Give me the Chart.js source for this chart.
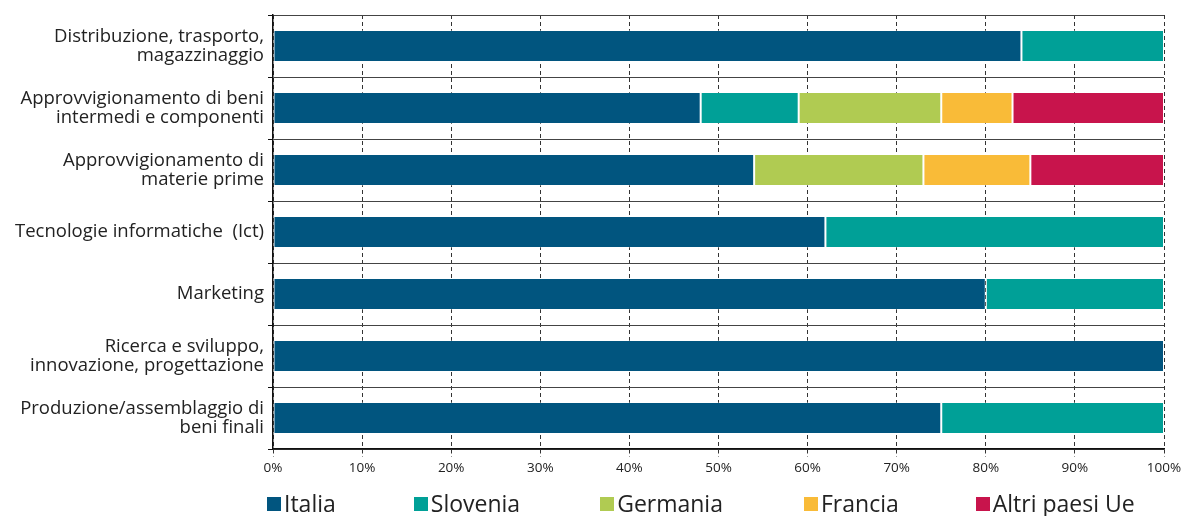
<!DOCTYPE html>
<html>
<head>
<meta charset="utf-8">
<script src="https://cdn.jsdelivr.net/npm/chart.js@4/dist/chart.umd.min.js"></script>
<style>
  html, body { margin: 0; padding: 0; background: #fff; }
  #wrap { position: relative; width: 1182px; height: 516px; overflow: hidden; }
  #chart { position: absolute; left: 0; top: 0; }
  #legend { position: absolute; left: 267px; top: 489px; display: flex; font-family: "Open Sans", sans-serif; font-size: 23px; color: #222; line-height: 28px; white-space: nowrap; }
  #legend .item { display: flex; align-items: center; }
  #legend .box { width: 14px; height: 14px; margin-right: 3px; margin-top: 2px; }
</style>
</head>
<body>
<div id="wrap">
  <canvas id="chart" width="1182" height="516"></canvas>
  <div id="legend"></div>
</div>
<script>
const categories = [
  ["Distribuzione, trasporto,", "magazzinaggio"],
  ["Approvvigionamento di beni", "intermedi e componenti"],
  ["Approvvigionamento di", "materie prime"],
  ["Tecnologie informatiche  (Ict)"],
  ["Marketing"],
  ["Ricerca e sviluppo,", "innovazione, progettazione"],
  ["Produzione/assemblaggio di", "beni finali"]
];
const seriesNames = ["Italia", "Slovenia", "Germania", "Francia", "Altri paesi Ue"];
const italia   = [84, 48, 54, 62, 80, 100, 75];
const slovenia = [16, 11, 0, 38, 20, 0, 25];
const germania = [0, 16, 19, 0, 0, 0, 0];
const francia  = [0, 8, 12, 0, 0, 0, 0];
const altri    = [0, 17, 15, 0, 0, 0, 0];
const xTickLabels = ["0%", "10%", "20%", "30%", "40%", "50%", "60%", "70%", "80%", "90%", "100%"];

const colors = ["#01557f", "#00a097", "#b0cb52", "#f9bb38", "#c8144c"];
const seriesValues = [italia, slovenia, germania, francia, altri];

const FONT = '"Open Sans", sans-serif';

const datasets = seriesNames.map((name, i) => ({
  label: name,
  data: seriesValues[i],
  backgroundColor: colors[i],
  borderColor: 'rgba(255,255,255,0.3)',
  borderWidth: 1,
  borderSkipped: false,
  categoryPercentage: 1,
  barPercentage: 0.52
}));

new Chart(document.getElementById('chart'), {
  type: 'bar',
  data: { labels: categories, datasets },
  options: {
    indexAxis: 'y',
    responsive: false,
    animation: false,
    layout: { padding: { top: 15, right: 18, bottom: 37, left: 0 } },
    plugins: { legend: { display: false }, tooltip: { enabled: false } },
    scales: {
      x: {
        stacked: true,
        min: 0, max: 100,
        ticks: {
          stepSize: 10,
          padding: 3,
          color: '#222',
          font: { family: FONT, size: 13.5 },
          callback: (v, i) => xTickLabels[i]
        },
        grid: {
          color: '#333',
          lineWidth: 1,
          tickLength: 8,
          tickBorderDash: [4, 3]
        },
        border: { display: true, color: '#111', width: 1.5, dash: [4, 3] },
        afterFit: s => { s.height = 30; s.paddingLeft = 0; s.paddingRight = 0; }
      },
      y: {
        stacked: true,
        ticks: {
          padding: 4,
          color: '#222',
          font: { family: FONT, size: 18.5, lineHeight: '18.5px' }
        },
        grid: {
          offset: true,
          color: '#444',
          lineWidth: 1,
          tickLength: 5,
          tickColor: '#111'
        },
        border: { display: true, color: '#111', width: 1.5 },
        afterFit: s => { s.width = 273; s.paddingTop = 0; s.paddingBottom = 0; }
      }
    }
  }
});

const legend = document.getElementById('legend');
const gaps = [78, 80, 81, 77, 0];
seriesNames.forEach((name, i) => {
  const item = document.createElement('div');
  item.className = 'item';
  item.style.marginRight = gaps[i] + 'px';
  const box = document.createElement('span');
  box.className = 'box';
  box.style.background = colors[i];
  const txt = document.createElement('span');
  txt.textContent = name;
  item.appendChild(box);
  item.appendChild(txt);
  legend.appendChild(item);
});
</script>
</body>
</html>
